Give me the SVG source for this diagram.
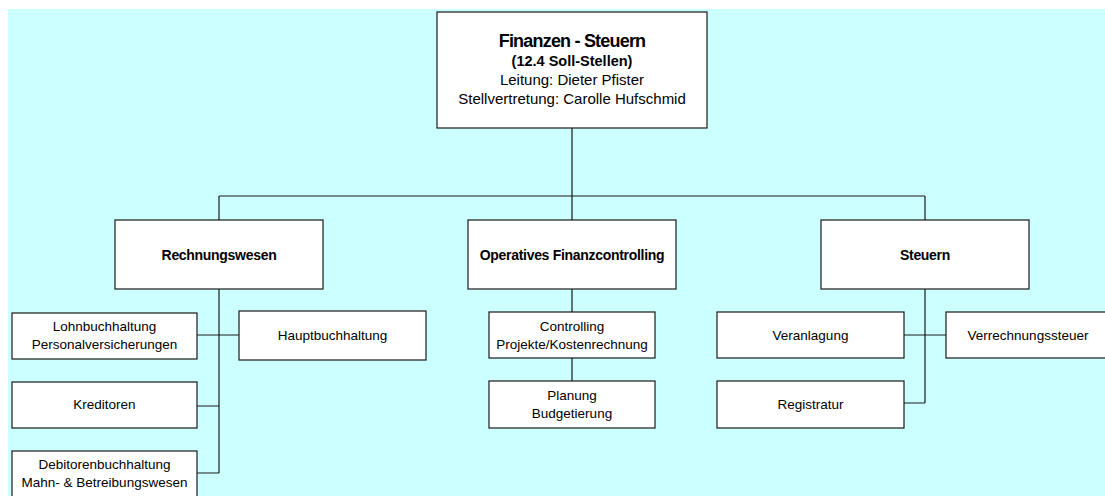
<svg xmlns="http://www.w3.org/2000/svg" width="1105" height="496" viewBox="0 0 1105 496">
  <style>
    .box { fill: #ffffff; stroke: #1a1a1a; stroke-width: 1.2; }
    .link { fill: none; stroke: #1a1a1a; stroke-width: 1.2; }
    text { font-family: "Liberation Sans", Arial, sans-serif; fill: #000000; text-anchor: middle; }
    .title { font-size: 18px; font-weight: bold; letter-spacing: -0.8px; }
    .sub { font-size: 14.5px; font-weight: bold; }
    .info { font-size: 15px; }
    .head { font-size: 14px; font-weight: bold; letter-spacing: -0.3px; }
    .unit { font-size: 13.5px; }
  </style>

  <!-- page background -->
  <rect x="0" y="0" width="1105" height="496" fill="#ffffff"/>
  <rect x="8" y="9" width="1097" height="487" fill="#ccffff"/>

  <!-- connectors -->
  <g id="connectors">
    <path class="link" d="M572 128 V196 M219 196 H925 M219 196 V220 M572 196 V220 M925 196 V220"/>
    <!-- Rechnungswesen branch -->
    <path class="link" d="M219 289 V473 M197 335 H239 M197 406 H219 M197 473 H219"/>
    <!-- Operatives Finanzcontrolling branch -->
    <path class="link" d="M572 289 V312 M572 358 V381"/>
    <!-- Steuern branch -->
    <path class="link" d="M925 289 V403 M904 335 H946 M904 403 H925"/>
  </g>

  <g id="finanzen-steuern">
    <rect class="box" x="437" y="12" width="270" height="116"/>
    <text class="title" x="572" y="47">Finanzen - Steuern</text>
    <text class="sub" x="572" y="66">(12.4 Soll-Stellen)</text>
    <text class="info" x="572" y="85">Leitung: Dieter Pfister</text>
    <text class="info" x="572" y="104">Stellvertretung: Carolle Hufschmid</text>
  </g>

  <g id="rechnungswesen">
    <rect class="box" x="115" y="220" width="208" height="69"/>
    <text class="head" x="219" y="260">Rechnungswesen</text>
  </g>

  <g id="operatives-finanzcontrolling">
    <rect class="box" x="468" y="220" width="208" height="69"/>
    <text class="head" x="572" y="260">Operatives Finanzcontrolling</text>
  </g>

  <g id="steuern">
    <rect class="box" x="821" y="220" width="208" height="69"/>
    <text class="head" x="925" y="260">Steuern</text>
  </g>

  <g id="lohnbuchhaltung">
    <rect class="box" x="12" y="313" width="185" height="46"/>
    <text class="unit" x="104.5" y="331">Lohnbuchhaltung</text>
    <text class="unit" x="104.5" y="349">Personalversicherungen</text>
  </g>

  <g id="hauptbuchhaltung">
    <rect class="box" x="239" y="311" width="187" height="49"/>
    <text class="unit" x="332.5" y="340">Hauptbuchhaltung</text>
  </g>

  <g id="kreditoren">
    <rect class="box" x="12" y="382" width="185" height="46"/>
    <text class="unit" x="104.5" y="409">Kreditoren</text>
  </g>

  <g id="debitorenbuchhaltung">
    <rect class="box" x="12" y="451" width="185" height="47"/>
    <text class="unit" x="104.5" y="469">Debitorenbuchhaltung</text>
    <text class="unit" x="104.5" y="487">Mahn- &amp; Betreibungswesen</text>
  </g>

  <g id="controlling">
    <rect class="box" x="489" y="312" width="166" height="46"/>
    <text class="unit" x="572" y="331">Controlling</text>
    <text class="unit" x="572" y="349">Projekte/Kostenrechnung</text>
  </g>

  <g id="planung">
    <rect class="box" x="489" y="381" width="166" height="47"/>
    <text class="unit" x="572" y="400">Planung</text>
    <text class="unit" x="572" y="418">Budgetierung</text>
  </g>

  <g id="veranlagung">
    <rect class="box" x="717" y="312" width="187" height="46"/>
    <text class="unit" x="810.5" y="340">Veranlagung</text>
  </g>

  <g id="verrechnungssteuer">
    <rect class="box" x="946" y="312" width="164" height="46"/>
    <text class="unit" x="1028" y="340">Verrechnungssteuer</text>
  </g>

  <g id="registratur">
    <rect class="box" x="717" y="381" width="187" height="47"/>
    <text class="unit" x="810.5" y="409">Registratur</text>
  </g>
</svg>
